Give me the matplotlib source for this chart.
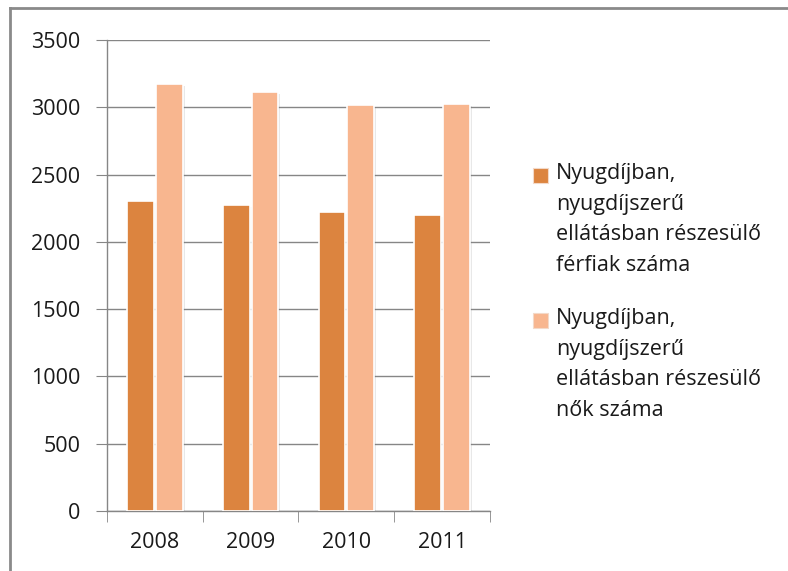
import numpy as np
import matplotlib.pyplot as plt
import matplotlib.patheffects as pe
from matplotlib.lines import Line2D
from matplotlib.patches import Rectangle

plt.rcParams['font.family'] = ['Open Sans', 'DejaVu Sans']

# adatok
years = ['2008', '2009', '2010', '2011']
ferfiak = [2305, 2275, 2220, 2200]
nok = [3175, 3110, 3015, 3025]
label_ferfi = 'Nyugdíjban,\nnyugdíjszerű\nellátásban részesülő\nférfiak száma'
label_no = 'Nyugdíjban,\nnyugdíjszerű\nellátásban részesülő\nnők száma'

c_dark = '#DC843F'
c_light = '#F8B68F'
grid_c = '#868686'
txt_c = '#1a1a1a'

fig = plt.figure(figsize=(7.88, 5.71), dpi=100)
ax = fig.add_axes([0.1358, 0.1051, 0.486, 0.825])

x = np.arange(len(years))
w = 0.28
shadow = [pe.SimplePatchShadow(offset=(1.5, -1.5), alpha=0.18, shadow_rgbFace='#808080'), pe.Normal()]
b1 = ax.bar(x - w / 2 - 0.01, ferfiak, w, color=c_dark, edgecolor='white', linewidth=1.2, zorder=3)
b2 = ax.bar(x + w / 2 + 0.01, nok, w, color=c_light, edgecolor='white', linewidth=1.2, zorder=3)
for b in list(b1) + list(b2):
    b.set_path_effects(shadow)

ax.set_xlim(-0.5, len(years) - 0.5)
ax.set_ylim(0, 3500)
ax.set_yticks(np.arange(0, 3501, 500))
ax.set_xticks(x)
ax.set_xticklabels(years)
ax.set_xticks(np.arange(-0.5, len(years)), minor=True)
ax.yaxis.grid(True, color=grid_c, linewidth=1)
ax.set_axisbelow(True)

for s in ['top', 'right']:
    ax.spines[s].set_visible(False)
for s in ['left', 'bottom']:
    ax.spines[s].set_color(grid_c)
    ax.spines[s].set_linewidth(1)

ax.tick_params(axis='y', length=8, color=grid_c, labelsize=15.5, pad=11, labelcolor=txt_c)
ax.tick_params(axis='x', which='major', length=0, labelsize=15.5, pad=15, labelcolor=txt_c)
ax.tick_params(axis='x', which='minor', length=8, color=grid_c)

# jelmagyarázat
W, H = 788, 571
for (lab, col, y0) in [(label_ferfi, c_dark, 168), (label_no, c_light, 313)]:
    fig.add_artist(Rectangle((533 / W, 1 - (y0 + 15) / H), 15 / W, 15 / H, transform=fig.transFigure,
                             facecolor=col, edgecolor='#f3d9c8', linewidth=0.8))
    fig.text(556 / W, 1 - (y0 - 5) / H, lab, va='top', ha='left', fontsize=15.5,
             linespacing=1.6, color=txt_c)

# keret
fig.add_artist(Line2D([0.0127, 1.0], [0.986, 0.986], transform=fig.transFigure, color='#8a8a8a', linewidth=2))
fig.add_artist(Line2D([0.0127, 0.0127], [0.0, 0.986], transform=fig.transFigure, color='#8a8a8a', linewidth=2))

plt.savefig('out.png', dpi=100)
